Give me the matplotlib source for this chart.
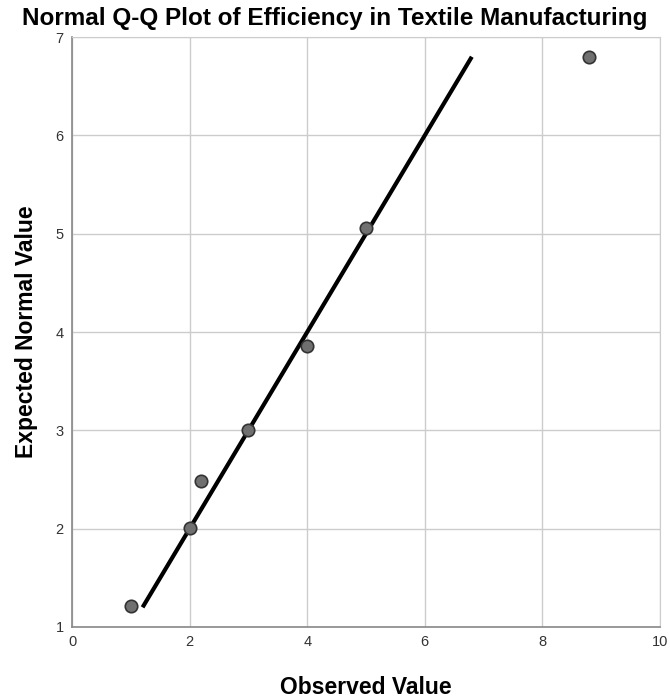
import matplotlib
matplotlib.use("Agg")
import matplotlib.pyplot as plt

plt.rcParams['font.family'] = ['Liberation Sans', 'DejaVu Sans']

observed = [1.0, 2.0, 2.2, 3.0, 4.0, 5.0, 8.8]
expected = [1.21, 2.01, 2.48, 3.0, 3.86, 5.06, 6.8]
line_x = [1.2, 6.8]
line_y = [1.2, 6.8]
x_ticks = [0, 2, 4, 6, 8, 10]
y_ticks = [1, 2, 3, 4, 5, 6, 7]

fig = plt.figure(figsize=(6.7, 7), dpi=100)
ax = fig.add_axes([0.1075, 0.1043, 0.8775, 0.8427])
ax.set_xlim(0, 10)
ax.set_ylim(1, 7)
ax.set_xticks(x_ticks)
ax.set_yticks(y_ticks)
ax.grid(True, color='#cccccc', linewidth=1)
ax.set_axisbelow(True)
ax.tick_params(length=0, labelsize=10.5, labelcolor='#333333', pad=6)
for s in ['left', 'bottom']:
    ax.spines[s].set_color('#888888')
    ax.spines[s].set_linewidth(1.2)
ax.spines['top'].set_color('#cccccc')
ax.spines['right'].set_color('#cccccc')

ax.plot(line_x, line_y, color='black', linewidth=3, solid_capstyle='butt', zorder=3)
ax.scatter(observed, expected, s=80, color='#707070', edgecolor='#333333', linewidth=1.2, zorder=4)

fig.text(0.5, 0.974, 'Normal Q-Q Plot of Efficiency in Textile Manufacturing',
         ha='center', va='center', fontsize=17.5, fontweight='bold')
ax.set_xlabel('Observed Value', fontsize=16.5, fontweight='bold', labelpad=19)
ax.set_ylabel('Expected Normal Value', fontsize=16.5, fontweight='bold', labelpad=13)

fig.savefig('out.png', dpi=100)
